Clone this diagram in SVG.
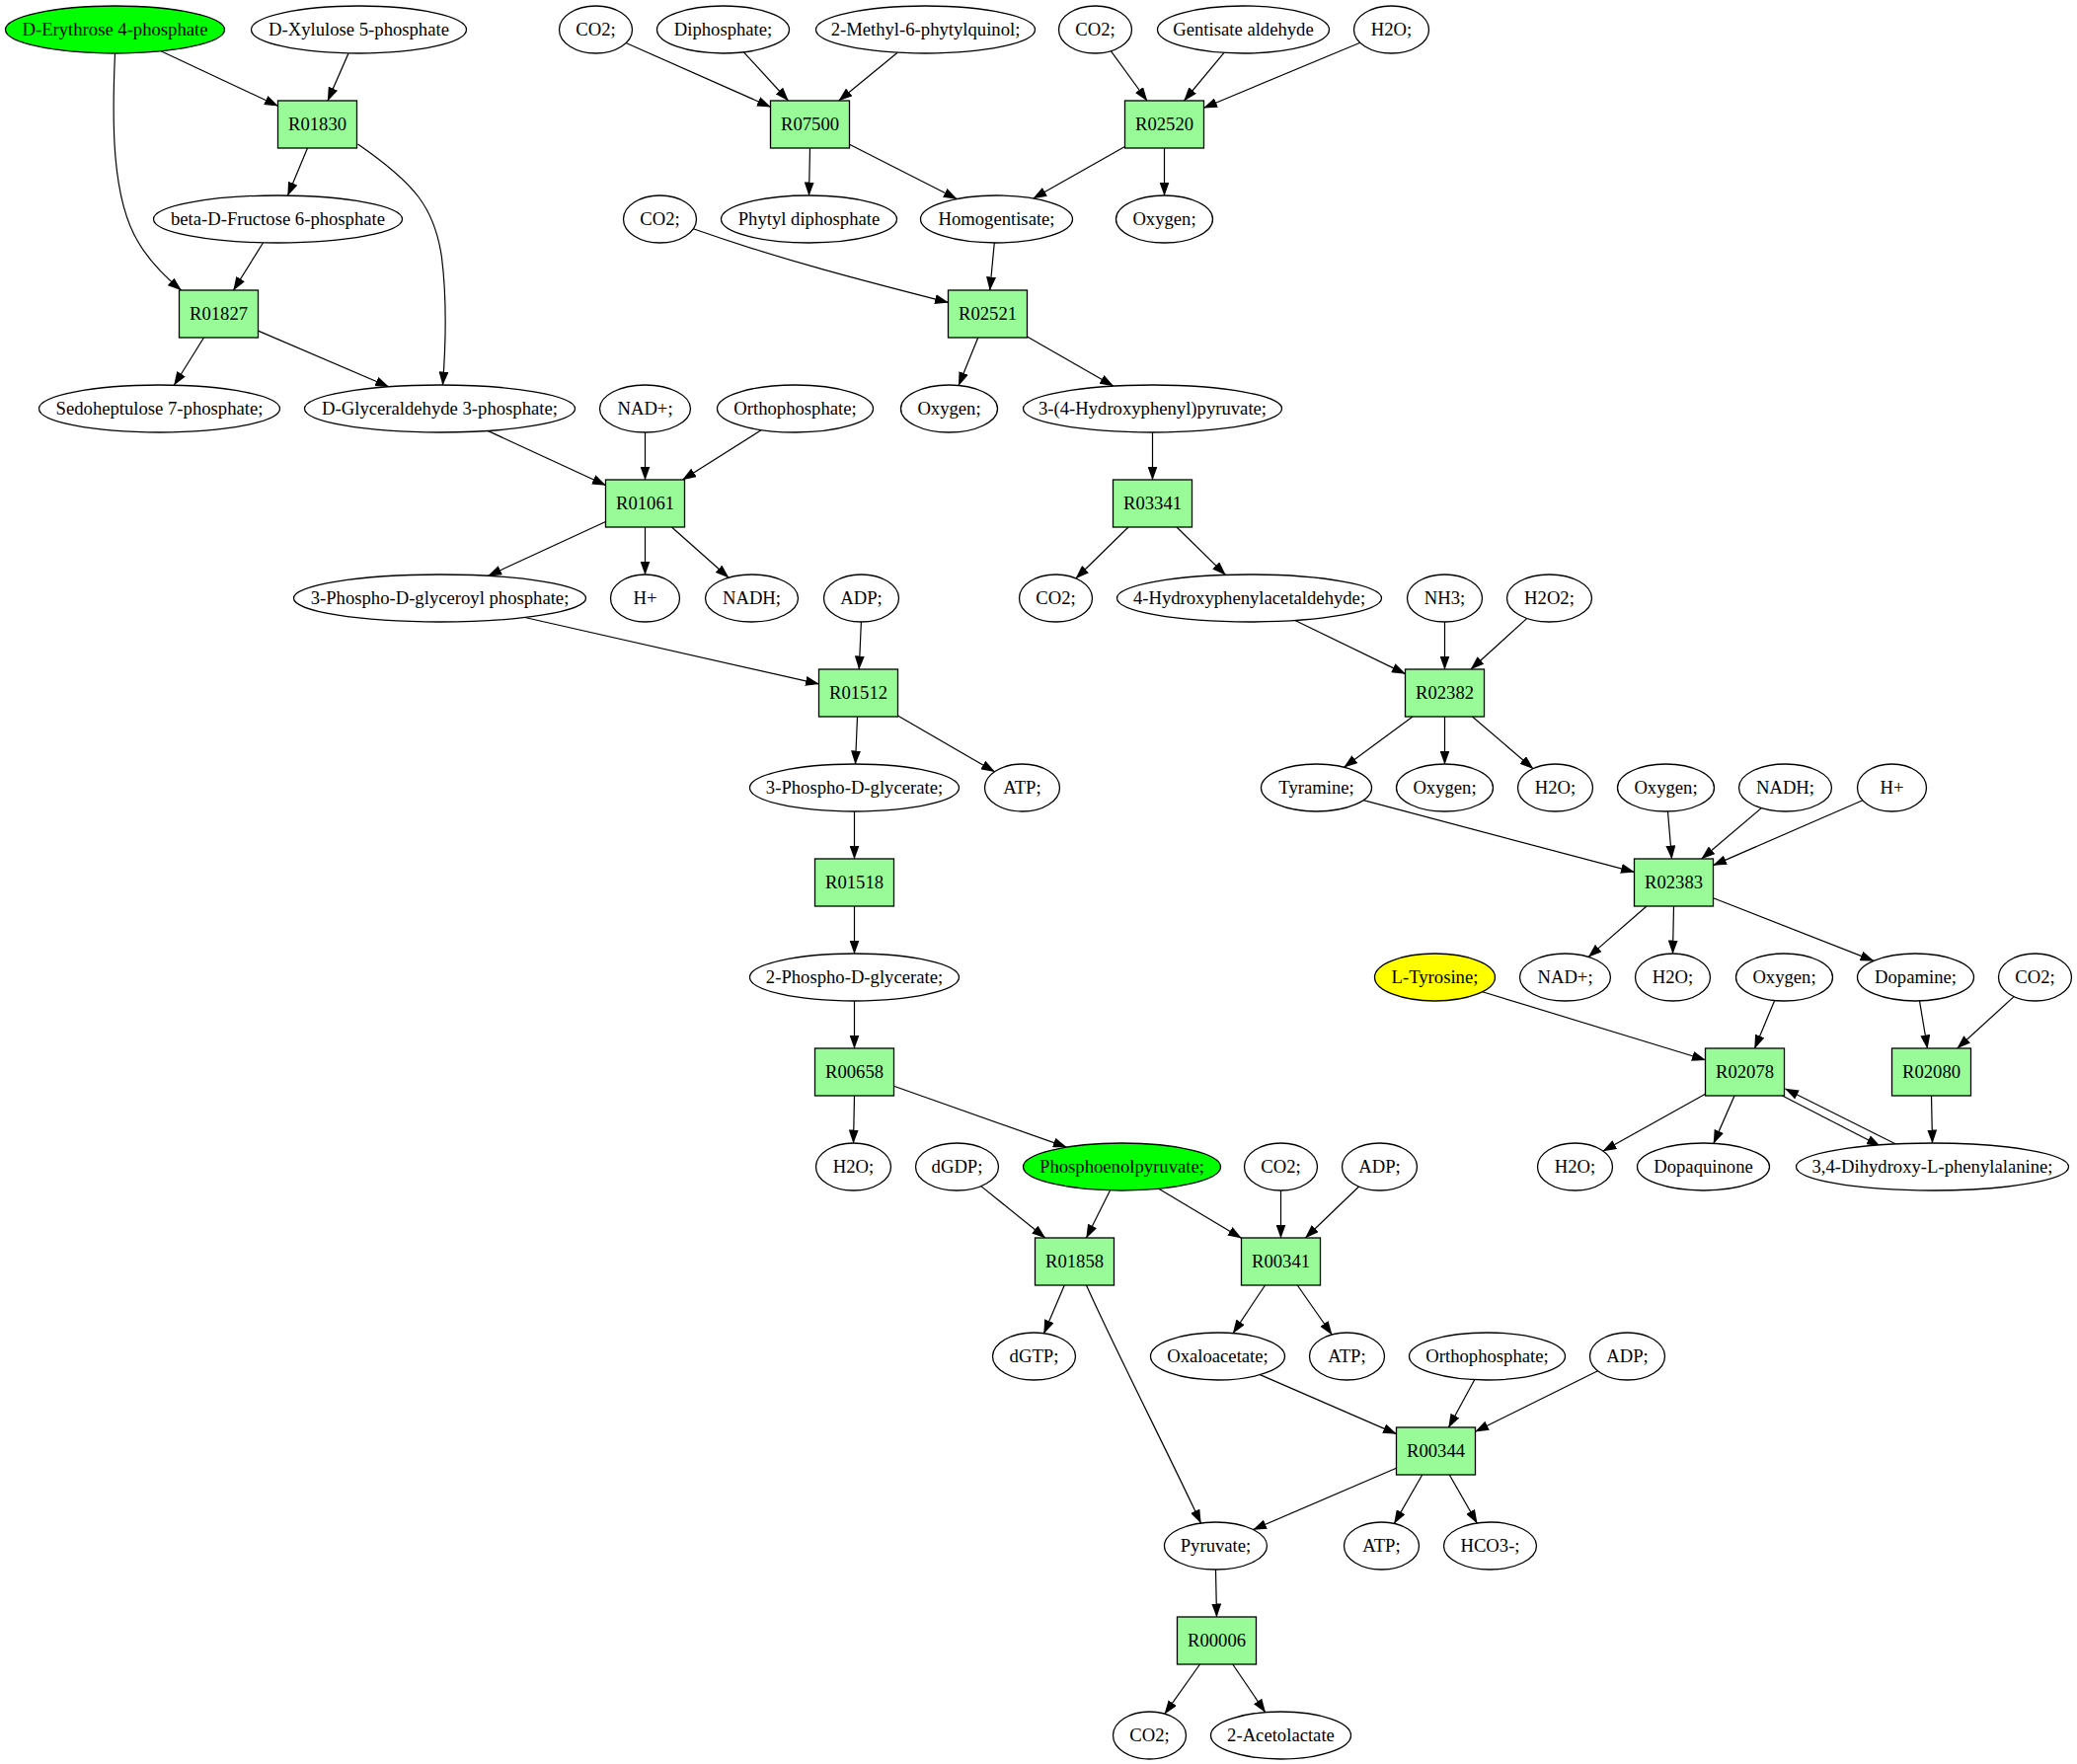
<svg xmlns="http://www.w3.org/2000/svg" width="2104" height="1787" viewBox="0 0 2104 1787">
<style>
.bg{fill:#ffffff}
.e{fill:none;stroke:#000;stroke-width:1.2;marker-end:url(#ah)}
.n ellipse{fill:#fff;stroke:#000;stroke-width:1.3}
.n rect{fill:#98fb98;stroke:#000;stroke-width:1.3}
.n .g{fill:#00ff00}
.n .y{fill:#ffff00}
text{font-family:"Liberation Serif","Times New Roman",serif;font-size:18.67px;text-anchor:middle;fill:#000}
</style>
<defs>
<marker id="ah" markerUnits="userSpaceOnUse" markerWidth="14" markerHeight="10" viewBox="0 0 14 10" refX="13.5" refY="5" orient="auto">
<path d="M0,0 L14,5 L0,10 z" fill="#000"/>
</marker>
</defs>
<rect class="bg" x="0" y="0" width="2104" height="1787"/>
<g id="graph" transform="translate(0.5,1)">
<g id="edges">
<path class="e" d="M162.5,50.8 L281,106.3"/>
<path class="e" d="M352.5,52.9 L331.5,101"/>
<path class="e" d="M116,53 C113,120 112,200 140,245 C150,262 165,278 183,293"/>
<path class="e" d="M311,149 L291,197.1"/>
<path class="e" d="M362,145 C420,185 440,210 447,260 C452,300 451,350 448,389"/>
<path class="e" d="M266.1,244.8 L236,293"/>
<path class="e" d="M206,341 L175.9,389.2"/>
<path class="e" d="M261,334.1 L393.2,390.8"/>
<path class="e" d="M633.6,42.5 L780,107.3"/>
<path class="e" d="M752.9,51.8 L798,101"/>
<path class="e" d="M908.7,52.2 L849.25,101"/>
<path class="e" d="M820,149 L819,197"/>
<path class="e" d="M860,145.3 L968.7,200.5"/>
<path class="e" d="M1124.8,50.7 L1161.5,101"/>
<path class="e" d="M1239.5,52.4 L1199,101"/>
<path class="e" d="M1377.3,42.2 L1219,108.3"/>
<path class="e" d="M1139,147.6 L1046.2,200"/>
<path class="e" d="M1179,149 L1179,197"/>
<path class="e" d="M701.8,230.8 C790,262 880,285 960,305.4"/>
<path class="e" d="M1006.8,245 L1002.25,293"/>
<path class="e" d="M990.25,341 L970.6,389.5"/>
<path class="e" d="M1040,340 L1127.2,390.1"/>
<path class="e" d="M493.6,435.4 L613,490.5"/>
<path class="e" d="M653,437 L653,485"/>
<path class="e" d="M770.8,434.6 L691,485"/>
<path class="e" d="M1167,437 L1167,485"/>
<path class="e" d="M613,527.5 L494.1,582.4"/>
<path class="e" d="M653,533 L653,581"/>
<path class="e" d="M680,533 L737.6,584.2"/>
<path class="e" d="M1142.5,533 L1089.4,585"/>
<path class="e" d="M1191.5,533 L1240.9,581.4"/>
<path class="e" d="M531.2,624.5 L829,691.9"/>
<path class="e" d="M871.9,629 L869.75,677"/>
<path class="e" d="M868,725 L866,773"/>
<path class="e" d="M909,724.1 L1007,780.8"/>
<path class="e" d="M1311.4,627.5 L1423,681.6"/>
<path class="e" d="M1463,629 L1463,677"/>
<path class="e" d="M1546.4,625.4 L1489.5,677"/>
<path class="e" d="M1430.5,725 L1361.1,776.2"/>
<path class="e" d="M1463,725 L1463,773"/>
<path class="e" d="M1491,725 L1552.5,777.7"/>
<path class="e" d="M865,821 L865,869"/>
<path class="e" d="M1380.6,809.6 L1655,882.4"/>
<path class="e" d="M1689,821 L1693,869"/>
<path class="e" d="M1783.8,817.6 L1723.25,869"/>
<path class="e" d="M1886.4,809.8 L1735,875.6"/>
<path class="e" d="M865,917 L865,965"/>
<path class="e" d="M1667.5,917 L1608.6,968.4"/>
<path class="e" d="M1695,917 L1694,965"/>
<path class="e" d="M1735,908.7 L1897.5,972.4"/>
<path class="e" d="M865,1013 L865,1061"/>
<path class="e" d="M1501.2,1003.7 L1727,1072.8"/>
<path class="e" d="M1797.2,1012.5 L1777,1061"/>
<path class="e" d="M1944,1012.9 L1952,1061"/>
<path class="e" d="M2039.6,1008.6 L1982.25,1061"/>
<path class="e" d="M865,1109 L864,1157"/>
<path class="e" d="M905,1099.2 L1079.9,1161.1"/>
<path class="e" d="M1727,1107.3 L1623.5,1165.1"/>
<path class="e" d="M1756.5,1109 L1735.4,1157.3"/>
<path class="e" d="M1805,1109 L1904,1160"/>
<path class="e" d="M1920,1158 L1808,1102"/>
<path class="e" d="M1956,1109 L1957,1157"/>
<path class="e" d="M993.3,1200.6 L1058.25,1253"/>
<path class="e" d="M1124.1,1204.8 L1100,1253"/>
<path class="e" d="M1173.3,1203.3 L1257,1253.2"/>
<path class="e" d="M1297,1205 L1297,1253"/>
<path class="e" d="M1376.1,1201 L1322,1253"/>
<path class="e" d="M1077.75,1301 L1057,1349.7"/>
<path class="e" d="M1100,1301 C1130,1368 1180,1465 1216,1542"/>
<path class="e" d="M1281,1301 L1248.6,1349.6"/>
<path class="e" d="M1313.75,1301 L1348.7,1351"/>
<path class="e" d="M1275.9,1391.6 L1414,1451.6"/>
<path class="e" d="M1493.2,1396.7 L1467,1445"/>
<path class="e" d="M1618.1,1387.8 L1494,1449.2"/>
<path class="e" d="M1414,1486.2 L1269,1548.6"/>
<path class="e" d="M1440.25,1493 L1411.9,1542.4"/>
<path class="e" d="M1467.75,1493 L1495.8,1542"/>
<path class="e" d="M1231,1589 L1232,1637"/>
<path class="e" d="M1215,1685 L1179.4,1735.2"/>
<path class="e" d="M1248.25,1685 L1281.2,1733.6"/>
</g>
<g id="n_e4p" class="n"><ellipse class="g" cx="116" cy="29" rx="111" ry="24"/><text x="116" y="35">D-Erythrose 4-phosphate</text></g>
<g id="n_x5p" class="n"><ellipse cx="363" cy="29" rx="109" ry="24"/><text x="363" y="35">D-Xylulose 5-phosphate</text></g>
<g id="n_co2a" class="n"><ellipse cx="603" cy="29" rx="37" ry="24"/><text x="603" y="35">CO2;</text></g>
<g id="n_diph" class="n"><ellipse cx="732" cy="29" rx="67" ry="24"/><text x="732" y="35">Diphosphate;</text></g>
<g id="n_mpq" class="n"><ellipse cx="937" cy="29" rx="111" ry="24"/><text x="937" y="35">2-Methyl-6-phytylquinol;</text></g>
<g id="n_co2b" class="n"><ellipse cx="1109" cy="29" rx="37" ry="24"/><text x="1109" y="35">CO2;</text></g>
<g id="n_gald" class="n"><ellipse cx="1259" cy="29" rx="87" ry="24"/><text x="1259" y="35">Gentisate aldehyde</text></g>
<g id="n_h2oa" class="n"><ellipse cx="1409" cy="29" rx="38" ry="24"/><text x="1409" y="35">H2O;</text></g>
<g id="r_R01830" class="n"><rect x="281" y="101" width="80" height="48"/><text x="321" y="131">R01830</text></g>
<g id="r_R07500" class="n"><rect x="780" y="101" width="80" height="48"/><text x="820" y="131">R07500</text></g>
<g id="r_R02520" class="n"><rect x="1139" y="101" width="80" height="48"/><text x="1179" y="131">R02520</text></g>
<g id="n_bdf6p" class="n"><ellipse cx="281" cy="221" rx="126" ry="24"/><text x="281" y="227">beta-D-Fructose 6-phosphate</text></g>
<g id="n_co2c" class="n"><ellipse cx="668" cy="221" rx="37" ry="24"/><text x="668" y="227">CO2;</text></g>
<g id="n_phydp" class="n"><ellipse cx="819" cy="221" rx="89" ry="24"/><text x="819" y="227">Phytyl diphosphate</text></g>
<g id="n_hga" class="n"><ellipse cx="1009" cy="221" rx="77" ry="24"/><text x="1009" y="227">Homogentisate;</text></g>
<g id="n_oxya" class="n"><ellipse cx="1179" cy="221" rx="49" ry="24"/><text x="1179" y="227">Oxygen;</text></g>
<g id="r_R01827" class="n"><rect x="181" y="293" width="80" height="48"/><text x="221" y="323">R01827</text></g>
<g id="r_R02521" class="n"><rect x="960" y="293" width="80" height="48"/><text x="1000" y="323">R02521</text></g>
<g id="n_s7p" class="n"><ellipse cx="161" cy="413" rx="122" ry="24"/><text x="161" y="419">Sedoheptulose 7-phosphate;</text></g>
<g id="n_g3p" class="n"><ellipse cx="445" cy="413" rx="137" ry="24"/><text x="445" y="419">D-Glyceraldehyde 3-phosphate;</text></g>
<g id="n_nad1" class="n"><ellipse cx="653" cy="413" rx="46" ry="24"/><text x="653" y="419">NAD+;</text></g>
<g id="n_pi1" class="n"><ellipse cx="805" cy="413" rx="79" ry="24"/><text x="805" y="419">Orthophosphate;</text></g>
<g id="n_oxyb" class="n"><ellipse cx="961" cy="413" rx="49" ry="24"/><text x="961" y="419">Oxygen;</text></g>
<g id="n_hpp" class="n"><ellipse cx="1167" cy="413" rx="131" ry="24"/><text x="1167" y="419">3-(4-Hydroxyphenyl)pyruvate;</text></g>
<g id="r_R01061" class="n"><rect x="613" y="485" width="80" height="48"/><text x="653" y="515">R01061</text></g>
<g id="r_R03341" class="n"><rect x="1127" y="485" width="80" height="48"/><text x="1167" y="515">R03341</text></g>
<g id="n_bpg" class="n"><ellipse cx="445" cy="605" rx="148" ry="24"/><text x="445" y="611">3-Phospho-D-glyceroyl phosphate;</text></g>
<g id="n_h1" class="n"><ellipse cx="653" cy="605" rx="35" ry="24"/><text x="653" y="611">H+</text></g>
<g id="n_nadh1" class="n"><ellipse cx="761" cy="605" rx="47" ry="24"/><text x="761" y="611">NADH;</text></g>
<g id="n_adp1" class="n"><ellipse cx="872" cy="605" rx="38" ry="24"/><text x="872" y="611">ADP;</text></g>
<g id="n_co2d" class="n"><ellipse cx="1069" cy="605" rx="37" ry="24"/><text x="1069" y="611">CO2;</text></g>
<g id="n_hpaa" class="n"><ellipse cx="1265" cy="605" rx="134" ry="24"/><text x="1265" y="611">4-Hydroxyphenylacetaldehyde;</text></g>
<g id="n_nh3" class="n"><ellipse cx="1463" cy="605" rx="38" ry="24"/><text x="1463" y="611">NH3;</text></g>
<g id="n_h2o2" class="n"><ellipse cx="1569" cy="605" rx="43" ry="24"/><text x="1569" y="611">H2O2;</text></g>
<g id="r_R01512" class="n"><rect x="829" y="677" width="80" height="48"/><text x="869" y="707">R01512</text></g>
<g id="r_R02382" class="n"><rect x="1423" y="677" width="80" height="48"/><text x="1463" y="707">R02382</text></g>
<g id="n_3pg" class="n"><ellipse cx="865" cy="797" rx="106" ry="24"/><text x="865" y="803">3-Phospho-D-glycerate;</text></g>
<g id="n_atp1" class="n"><ellipse cx="1035" cy="797" rx="38" ry="24"/><text x="1035" y="803">ATP;</text></g>
<g id="n_tyra" class="n"><ellipse cx="1333" cy="797" rx="56" ry="24"/><text x="1333" y="803">Tyramine;</text></g>
<g id="n_oxyc" class="n"><ellipse cx="1463" cy="797" rx="49" ry="24"/><text x="1463" y="803">Oxygen;</text></g>
<g id="n_h2ob" class="n"><ellipse cx="1575" cy="797" rx="38" ry="24"/><text x="1575" y="803">H2O;</text></g>
<g id="n_oxyd" class="n"><ellipse cx="1687" cy="797" rx="49" ry="24"/><text x="1687" y="803">Oxygen;</text></g>
<g id="n_nadh2" class="n"><ellipse cx="1808" cy="797" rx="47" ry="24"/><text x="1808" y="803">NADH;</text></g>
<g id="n_h2" class="n"><ellipse cx="1916" cy="797" rx="35" ry="24"/><text x="1916" y="803">H+</text></g>
<g id="r_R01518" class="n"><rect x="825" y="869" width="80" height="48"/><text x="865" y="899">R01518</text></g>
<g id="r_R02383" class="n"><rect x="1655" y="869" width="80" height="48"/><text x="1695" y="899">R02383</text></g>
<g id="n_2pg" class="n"><ellipse cx="865" cy="989" rx="106" ry="24"/><text x="865" y="995">2-Phospho-D-glycerate;</text></g>
<g id="n_tyr" class="n"><ellipse class="y" cx="1453" cy="989" rx="61" ry="24"/><text x="1453" y="995">L-Tyrosine;</text></g>
<g id="n_nad2" class="n"><ellipse cx="1585" cy="989" rx="46" ry="24"/><text x="1585" y="995">NAD+;</text></g>
<g id="n_h2oc" class="n"><ellipse cx="1694" cy="989" rx="38" ry="24"/><text x="1694" y="995">H2O;</text></g>
<g id="n_oxye" class="n"><ellipse cx="1807" cy="989" rx="49" ry="24"/><text x="1807" y="995">Oxygen;</text></g>
<g id="n_dopa" class="n"><ellipse cx="1940" cy="989" rx="59" ry="24"/><text x="1940" y="995">Dopamine;</text></g>
<g id="n_co2e" class="n"><ellipse cx="2061" cy="989" rx="37" ry="24"/><text x="2061" y="995">CO2;</text></g>
<g id="r_R00658" class="n"><rect x="825" y="1061" width="80" height="48"/><text x="865" y="1091">R00658</text></g>
<g id="r_R02078" class="n"><rect x="1727" y="1061" width="80" height="48"/><text x="1767" y="1091">R02078</text></g>
<g id="r_R02080" class="n"><rect x="1916" y="1061" width="80" height="48"/><text x="1956" y="1091">R02080</text></g>
<g id="n_h2od" class="n"><ellipse cx="864" cy="1181" rx="38" ry="24"/><text x="864" y="1187">H2O;</text></g>
<g id="n_dgdp" class="n"><ellipse cx="969" cy="1181" rx="42" ry="24"/><text x="969" y="1187">dGDP;</text></g>
<g id="n_pep" class="n"><ellipse class="g" cx="1136" cy="1181" rx="100" ry="24"/><text x="1136" y="1187">Phosphoenolpyruvate;</text></g>
<g id="n_co2f" class="n"><ellipse cx="1297" cy="1181" rx="37" ry="24"/><text x="1297" y="1187">CO2;</text></g>
<g id="n_adp2" class="n"><ellipse cx="1397" cy="1181" rx="38" ry="24"/><text x="1397" y="1187">ADP;</text></g>
<g id="n_h2oe" class="n"><ellipse cx="1595" cy="1181" rx="38" ry="24"/><text x="1595" y="1187">H2O;</text></g>
<g id="n_dq" class="n"><ellipse cx="1725" cy="1181" rx="67" ry="24"/><text x="1725" y="1187">Dopaquinone</text></g>
<g id="n_ldopa" class="n"><ellipse cx="1957" cy="1181" rx="138" ry="24"/><text x="1957" y="1187">3,4-Dihydroxy-L-phenylalanine;</text></g>
<g id="r_R01858" class="n"><rect x="1048" y="1253" width="80" height="48"/><text x="1088" y="1283">R01858</text></g>
<g id="r_R00341" class="n"><rect x="1257" y="1253" width="80" height="48"/><text x="1297" y="1283">R00341</text></g>
<g id="n_dgtp" class="n"><ellipse cx="1047" cy="1373" rx="42" ry="24"/><text x="1047" y="1379">dGTP;</text></g>
<g id="n_oaa" class="n"><ellipse cx="1233" cy="1373" rx="68" ry="24"/><text x="1233" y="1379">Oxaloacetate;</text></g>
<g id="n_atp2" class="n"><ellipse cx="1364" cy="1373" rx="38" ry="24"/><text x="1364" y="1379">ATP;</text></g>
<g id="n_pi2" class="n"><ellipse cx="1506" cy="1373" rx="79" ry="24"/><text x="1506" y="1379">Orthophosphate;</text></g>
<g id="n_adp3" class="n"><ellipse cx="1648" cy="1373" rx="38" ry="24"/><text x="1648" y="1379">ADP;</text></g>
<g id="r_R00344" class="n"><rect x="1414" y="1445" width="80" height="48"/><text x="1454" y="1475">R00344</text></g>
<g id="n_pyr" class="n"><ellipse cx="1231" cy="1565" rx="52" ry="24"/><text x="1231" y="1571">Pyruvate;</text></g>
<g id="n_atp3" class="n"><ellipse cx="1399" cy="1565" rx="38" ry="24"/><text x="1399" y="1571">ATP;</text></g>
<g id="n_hco3" class="n"><ellipse cx="1509" cy="1565" rx="47" ry="24"/><text x="1509" y="1571">HCO3-;</text></g>
<g id="r_R00006" class="n"><rect x="1192" y="1637" width="80" height="48"/><text x="1232" y="1667">R00006</text></g>
<g id="n_co2g" class="n"><ellipse cx="1164" cy="1757" rx="37" ry="24"/><text x="1164" y="1763">CO2;</text></g>
<g id="n_acl" class="n"><ellipse cx="1297" cy="1757" rx="71" ry="24"/><text x="1297" y="1763">2-Acetolactate</text></g>
</g>
</svg>
